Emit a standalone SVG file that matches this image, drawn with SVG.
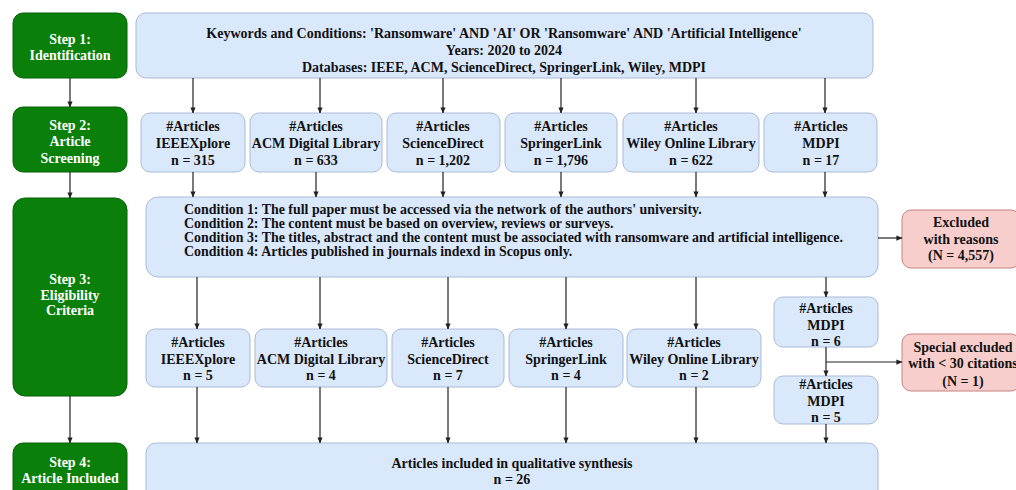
<svg xmlns="http://www.w3.org/2000/svg" width="1016" height="490" viewBox="0 0 1016 490">
<style>
text{font-family:"Liberation Serif","Times New Roman",serif;font-weight:bold;font-size:14px;fill:#111;text-anchor:middle}
.step rect{fill:#0a7f0a;stroke:#066306;stroke-width:1}
.step text{fill:#fff}
.blue rect{fill:#dae8fc;stroke:#a8bbd6;stroke-width:1}
.pink rect{fill:#f8cecc;stroke:#c4827f;stroke-width:1}
.cond text{text-anchor:start;font-size:13.9px}
#connectors line{stroke:#222;stroke-width:1.2;marker-end:url(#ah)}
</style>
<defs>
<marker id="ah" viewBox="0 0 8 8" refX="7.5" refY="4" markerWidth="6" markerHeight="6" markerUnits="userSpaceOnUse" orient="auto"><path d="M0,0.5 L8,4 L0,7.5 z" fill="#222"/></marker>
</defs>
<rect width="1016" height="490" fill="#fff"/>

<g id="step1" class="step"><rect x="13" y="13" width="114" height="65" rx="10"/><text x="70" y="43.5">Step 1:</text><text x="70" y="59.5">Identification</text></g>
<g id="step2" class="step"><rect x="13" y="107" width="114" height="65" rx="10"/><text x="70" y="129.5">Step 2:</text><text x="70" y="146">Article</text><text x="70" y="162.5">Screening</text></g>
<g id="step3" class="step"><rect x="13" y="198" width="114" height="198" rx="12"/><text x="70" y="284">Step 3:</text><text x="70" y="299.5">Eligibility</text><text x="70" y="315">Criteria</text></g>
<g id="step4" class="step"><rect x="13" y="443" width="114" height="60" rx="10"/><text x="70" y="466.5">Step 4:</text><text x="70" y="482.5">Article Included</text></g>

<g id="keywords" class="blue"><rect x="136" y="13" width="737" height="65" rx="10"/><text x="504" y="37.5">Keywords and Conditions: 'Ransomware' AND 'AI' OR 'Ransomware' AND 'Artificial Intelligence'</text><text x="504" y="55">Years: 2020 to 2024</text><text x="504" y="71.5">Databases: IEEE, ACM, ScienceDirect, SpringerLink, Wiley, MDPI</text></g>

<g id="s2-ieee" class="blue"><rect x="141" y="113" width="104" height="59" rx="9"/><text x="193" y="131">#Articles</text><text x="193" y="148">IEEEXplore</text><text x="193" y="165">n = 315</text></g>
<g id="s2-acm" class="blue"><rect x="250" y="113" width="132" height="59" rx="9"/><text x="316" y="131">#Articles</text><text x="316" y="148">ACM Digital Library</text><text x="316" y="165">n = 633</text></g>
<g id="s2-sd" class="blue"><rect x="387" y="113" width="113" height="59" rx="9"/><text x="443" y="131">#Articles</text><text x="443" y="148">ScienceDirect</text><text x="443" y="165">n = 1,202</text></g>
<g id="s2-sl" class="blue"><rect x="505" y="113" width="112" height="59" rx="9"/><text x="561" y="131">#Articles</text><text x="561" y="148">SpringerLink</text><text x="561" y="165">n = 1,796</text></g>
<g id="s2-wiley" class="blue"><rect x="623" y="113" width="136" height="59" rx="9"/><text x="691" y="131">#Articles</text><text x="691" y="148">Wiley Online Library</text><text x="691" y="165">n = 622</text></g>
<g id="s2-mdpi" class="blue"><rect x="764" y="113" width="113" height="59" rx="9"/><text x="821" y="131">#Articles</text><text x="821" y="148">MDPI</text><text x="821" y="165">n = 17</text></g>

<g id="conditions" class="blue cond"><rect x="146" y="197" width="732" height="80" rx="12"/><text x="184" y="213.5">Condition 1: The full paper must be accessed via the network of the authors' university.</text><text x="184" y="227.5">Condition 2: The content must be based on overview, reviews or surveys.</text><text x="184" y="241.5">Condition 3: The titles, abstract and the content must be associated with ransomware and artificial intelligence.</text><text x="184" y="255.5">Condition 4: Articles published in journals indexd in Scopus only.</text></g>

<g id="excluded" class="pink"><rect x="902" y="210" width="118" height="58" rx="9"/><text x="961" y="226.5">Excluded</text><text x="961" y="243.5">with reasons</text><text x="961" y="260">(N = 4,557)</text></g>

<g id="s3-ieee" class="blue"><rect x="146" y="329" width="104" height="58" rx="9"/><text x="198" y="346.5">#Articles</text><text x="198" y="363.5">IEEEXplore</text><text x="198" y="380">n = 5</text></g>
<g id="s3-acm" class="blue"><rect x="255" y="329" width="132" height="58" rx="9"/><text x="321" y="346.5">#Articles</text><text x="321" y="363.5">ACM Digital Library</text><text x="321" y="380">n = 4</text></g>
<g id="s3-sd" class="blue"><rect x="392" y="329" width="112" height="58" rx="9"/><text x="448" y="346.5">#Articles</text><text x="448" y="363.5">ScienceDirect</text><text x="448" y="380">n = 7</text></g>
<g id="s3-sl" class="blue"><rect x="509" y="329" width="114" height="58" rx="9"/><text x="566" y="346.5">#Articles</text><text x="566" y="363.5">SpringerLink</text><text x="566" y="380">n = 4</text></g>
<g id="s3-wiley" class="blue"><rect x="627" y="329" width="134" height="58" rx="9"/><text x="694" y="346.5">#Articles</text><text x="694" y="363.5">Wiley Online Library</text><text x="694" y="380">n = 2</text></g>
<g id="s3-mdpi6" class="blue"><rect x="774" y="297" width="104" height="50" rx="9"/><text x="826" y="312.5">#Articles</text><text x="826" y="330">MDPI</text><text x="826" y="346">n = 6</text></g>
<g id="s3-mdpi5" class="blue"><rect x="774" y="376" width="104" height="48" rx="9"/><text x="826" y="388.5">#Articles</text><text x="826" y="406">MDPI</text><text x="826" y="422">n = 5</text></g>

<g id="special" class="pink"><rect x="902" y="334" width="118" height="57" rx="9"/><text x="963" y="351.5">Special excluded</text><text x="963" y="368">with &lt; 30 citations</text><text x="963" y="386">(N = 1)</text></g>

<g id="included" class="blue"><rect x="146" y="443" width="732" height="60" rx="10"/><text x="512" y="467.5">Articles included in qualitative synthesis</text><text x="512" y="483.5">n = 26</text></g>

<g id="connectors">
<line x1="70" y1="78" x2="70" y2="107"/>
<line x1="70" y1="172" x2="70" y2="198"/>
<line x1="70" y1="396" x2="70" y2="443"/>
<line x1="193" y1="78" x2="193" y2="113"/>
<line x1="320" y1="78" x2="320" y2="113"/>
<line x1="443" y1="78" x2="443" y2="113"/>
<line x1="561" y1="78" x2="561" y2="113"/>
<line x1="696" y1="78" x2="696" y2="113"/>
<line x1="825" y1="78" x2="825" y2="113"/>
<line x1="193" y1="172" x2="193" y2="197"/>
<line x1="316" y1="172" x2="316" y2="197"/>
<line x1="443" y1="172" x2="443" y2="197"/>
<line x1="561" y1="172" x2="561" y2="197"/>
<line x1="696" y1="172" x2="696" y2="197"/>
<line x1="825" y1="172" x2="825" y2="197"/>
<line x1="878" y1="238" x2="902" y2="238"/>
<line x1="197" y1="277" x2="197" y2="329"/>
<line x1="320" y1="277" x2="320" y2="329"/>
<line x1="448" y1="277" x2="448" y2="329"/>
<line x1="566" y1="277" x2="566" y2="329"/>
<line x1="696" y1="277" x2="696" y2="329"/>
<line x1="826" y1="277" x2="826" y2="297"/>
<line x1="826" y1="347" x2="826" y2="376"/>
<line x1="826" y1="362" x2="902" y2="362"/>
<line x1="197" y1="387" x2="197" y2="443"/>
<line x1="320" y1="387" x2="320" y2="443"/>
<line x1="448" y1="387" x2="448" y2="443"/>
<line x1="566" y1="387" x2="566" y2="443"/>
<line x1="696" y1="387" x2="696" y2="443"/>
<line x1="826" y1="424" x2="826" y2="443"/>
</g>
</svg>
